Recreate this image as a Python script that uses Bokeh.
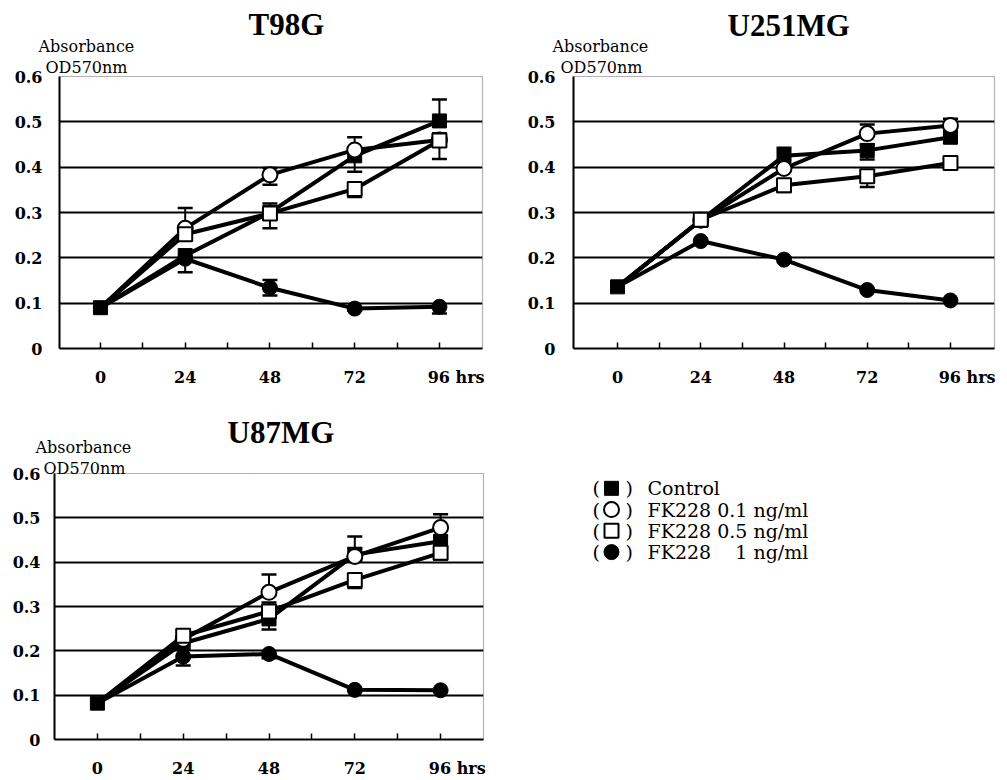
from bokeh.plotting import figure
from bokeh.layouts import row, column
from bokeh.models import (Range1d, FixedTicker, Title, Whisker, TeeHead,
                          ColumnDataSource, PrintfTickFormatter)
from bokeh.embed import file_html
from bokeh.resources import INLINE
from bokeh.core.properties import value

# ---------------- data ----------------
hours = [0, 24, 48, 72, 96]
x_tick_labels = ["0", "24", "48", "72", "96"]
x_unit = "hrs"
y_ticks = [0, 0.1, 0.2, 0.3, 0.4, 0.5, 0.6]
y_tick_labels = ["0", "0.1", "0.2", "0.3", "0.4", "0.5", "0.6"]
y_title = ["Absorbance", "OD570nm"]
series_names = ["Control", "FK228 0.1 ng/ml", "FK228 0.5 ng/ml",
                "FK228\u00a0\u00a0\u00a0\u00a01 ng/ml"]
cell_lines = ["T98G", "U251MG", "U87MG"]

# T98G  (mean, upper error, lower error)
t98g_control = [0.090, 0.205, 0.300, 0.425, 0.502]
t98g_control_up = [0, 0, 0, 0, 0.047]
t98g_control_dn = [0, 0.037, 0, 0.035, 0]
t98g_fk01 = [0.090, 0.265, 0.383, 0.438, 0.460]
t98g_fk01_up = [0, 0.045, 0.015, 0.028, 0]
t98g_fk01_dn = [0, 0, 0.022, 0, 0]
t98g_fk05 = [0.090, 0.252, 0.298, 0.352, 0.459]
t98g_fk05_up = [0, 0, 0.022, 0, 0.016]
t98g_fk05_dn = [0, 0, 0.033, 0.018, 0.041]
t98g_fk1 = [0.090, 0.198, 0.134, 0.088, 0.092]
t98g_fk1_up = [0, 0, 0.017, 0, 0]
t98g_fk1_dn = [0, 0, 0.017, 0.005, 0.015]

# U251MG
u251_control = [0.136, 0.283, 0.425, 0.437, 0.466]
u251_control_up = [0, 0, 0.018, 0.013, 0.012]
u251_control_dn = [0, 0, 0, 0.020, 0.012]
u251_fk01 = [0.136, 0.283, 0.397, 0.474, 0.492]
u251_fk01_up = [0, 0, 0, 0.020, 0.015]
u251_fk01_dn = [0, 0, 0, 0, 0]
u251_fk05 = [0.136, 0.284, 0.360, 0.380, 0.409]
u251_fk05_up = [0, 0, 0.012, 0, 0.010]
u251_fk05_dn = [0, 0, 0.015, 0.024, 0.010]
u251_fk1 = [0.136, 0.237, 0.196, 0.129, 0.106]
u251_fk1_up = [0, 0, 0.005, 0, 0]
u251_fk1_dn = [0, 0, 0, 0, 0.005]

# U87MG
u87_control = [0.082, 0.217, 0.272, 0.417, 0.447]
u87_control_up = [0, 0, 0, 0.015, 0.012]
u87_control_dn = [0, 0, 0.024, 0, 0.012]
u87_fk01 = [0.082, 0.226, 0.332, 0.413, 0.478]
u87_fk01_up = [0, 0, 0.040, 0.045, 0.030]
u87_fk01_dn = [0, 0, 0, 0, 0]
u87_fk05 = [0.082, 0.234, 0.289, 0.360, 0.421]
u87_fk05_up = [0, 0, 0.020, 0, 0]
u87_fk05_dn = [0, 0, 0, 0.018, 0.015]
u87_fk1 = [0.082, 0.187, 0.193, 0.112, 0.111]
u87_fk1_up = [0, 0, 0, 0, 0]
u87_fk1_dn = [0, 0.020, 0.010, 0, 0]

# ---------------- styling ----------------
STYLES = [
    dict(marker="square", size=14, fill_color="black", line_color="black", line_width=1),
    dict(marker="circle", size=15, fill_color="white", line_color="black", line_width=2),
    dict(marker="square", size=14, fill_color="white", line_color="black", line_width=2),
    dict(marker="circle", size=15, fill_color="black", line_color="black", line_width=1),
]
TICK_FONT = "DejaVu Serif"
NB = "\u00a0"


def make_panel(title, series, width, height, xr, borders, title_off,
               abs_off, od_off, ylab_standoff, xlab_standoff):
    bl, br, bt, bb = borders
    p = figure(width=width, height=height, x_range=Range1d(*xr),
               y_range=Range1d(0, 0.6), output_backend="svg",
               toolbar_location=None, title_location=None,
               min_border_left=bl, min_border_right=br,
               min_border_top=bt, min_border_bottom=bb)
    p.background_fill_color = "white"
    p.border_fill_color = "white"
    p.outline_line_color = "#666666"
    p.outline_line_dash = "1 1"
    p.outline_line_width = 1.2

    p.xgrid.visible = False
    p.ygrid.ticker = FixedTicker(ticks=y_ticks[1:-1])
    p.ygrid.grid_line_color = "black"
    p.ygrid.grid_line_width = 1.8

    # y axis
    p.yaxis.ticker = FixedTicker(ticks=y_ticks)
    p.yaxis.formatter = PrintfTickFormatter(format="%.1f")
    p.yaxis.major_label_overrides = dict(zip(y_ticks, y_tick_labels))
    p.yaxis.axis_line_width = 2
    p.yaxis.major_tick_in = 0
    p.yaxis.major_tick_out = 0
    p.yaxis.minor_tick_in = 0
    p.yaxis.minor_tick_out = 0
    p.yaxis.major_tick_line_color = None
    p.yaxis.minor_tick_line_color = None
    p.yaxis.major_label_standoff = ylab_standoff

    # x axis (last label carries the unit)
    minor = [(a + b) / 2 for a, b in zip(hours, hours[1:])]
    xlabels = list(x_tick_labels)
    xlabels[-1] = NB * 6 + xlabels[-1] + NB + x_unit
    p.xaxis.ticker = FixedTicker(ticks=hours, minor_ticks=minor)
    p.xaxis.major_label_overrides = dict(zip(hours, xlabels))
    p.xaxis.axis_line_width = 2
    p.xaxis.major_tick_in = 6
    p.xaxis.major_tick_out = 0
    p.xaxis.minor_tick_in = 6
    p.xaxis.minor_tick_out = 0
    p.xaxis.major_tick_line_width = 1.5
    p.xaxis.minor_tick_line_width = 1.5
    p.xaxis.major_label_standoff = xlab_standoff

    for ax in (p.xaxis, p.yaxis):
        ax.axis_line_color = "black"
        ax.major_label_text_font = TICK_FONT
        ax.major_label_text_font_size = "16px"
        ax.major_label_text_font_style = "bold"
        ax.major_label_text_color = "black"

    # error bars
    for vals, up, dn in series:
        su = ColumnDataSource(dict(
            base=[h for h, u in zip(hours, up) if u > 0],
            lower=[v for v, u in zip(vals, up) if u > 0],
            upper=[v + u for v, u in zip(vals, up) if u > 0]))
        sd = ColumnDataSource(dict(
            base=[h for h, d in zip(hours, dn) if d > 0],
            lower=[v - d for v, d in zip(vals, dn) if d > 0],
            upper=[v for v, d in zip(vals, dn) if d > 0]))
        p.add_layout(Whisker(base="base", lower="lower", upper="upper", source=su,
                             line_width=2, line_color="black", lower_head=None,
                             upper_head=TeeHead(size=15, line_width=2.5, line_color="black")))
        p.add_layout(Whisker(base="base", lower="lower", upper="upper", source=sd,
                             line_width=2, line_color="black", upper_head=None,
                             lower_head=TeeHead(size=15, line_width=2.5, line_color="black")))

    # lines
    for vals, up, dn in series:
        p.line(hours, vals, line_width=4, line_color="black", line_join="round")

    # markers (treatments share the control baseline at time 0)
    for i, (vals, up, dn) in enumerate(series):
        xs = hours if i == 0 else hours[1:]
        ys = vals if i == 0 else vals[1:]
        p.scatter(xs, ys, **STYLES[i])

    # header texts, stacked outward from the frame
    p.add_layout(Title(text=y_title[1], align="left", offset=od_off[0], standoff=od_off[1],
                       text_font="DejaVu Serif", text_font_size="16px",
                       text_font_style="normal", text_color="black"), "above")
    p.add_layout(Title(text=y_title[0], align="left", offset=abs_off[0], standoff=abs_off[1],
                       text_font="DejaVu Serif", text_font_size="16px",
                       text_font_style="normal", text_color="black"), "above")
    p.add_layout(Title(text=title, align="left", offset=title_off[0], standoff=title_off[1],
                       text_font="Liberation Serif", text_font_size="31px",
                       text_font_style="bold", text_color="black"), "above")
    return p


p1 = make_panel(cell_lines[0],
                [(t98g_control, t98g_control_up, t98g_control_dn),
                 (t98g_fk01, t98g_fk01_up, t98g_fk01_dn),
                 (t98g_fk05, t98g_fk05_up, t98g_fk05_dn),
                 (t98g_fk1, t98g_fk1_up, t98g_fk1_dn)],
                511, 400, (-11.6, 108.2), (59, 29, 76, 52),
                (189, -15), (-21, 1), (-14, -1), 17, 19)
p2 = make_panel(cell_lines[1],
                [(u251_control, u251_control_up, u251_control_dn),
                 (u251_fk01, u251_fk01_up, u251_fk01_dn),
                 (u251_fk05, u251_fk05_up, u251_fk05_dn),
                 (u251_fk1, u251_fk1_up, u251_fk1_dn)],
                489, 400, (-12.7, 108.7), (62, 6, 76, 52),
                (154, -17), (-21, 1), (-13, -1), 18, 19)
p3 = make_panel(cell_lines[2],
                [(u87_control, u87_control_up, u87_control_dn),
                 (u87_fk01, u87_fk01_up, u87_fk01_dn),
                 (u87_fk05, u87_fk05_up, u87_fk05_dn),
                 (u87_fk1, u87_fk1_up, u87_fk1_dn)],
                511, 380, (-12.0, 108.0), (54, 28, 73, 38),
                (173, -37), (-19, 9), (-11, -9), 14, 19)

# ---------------- legend panel ----------------
# frame spans the same rows as p3's frame; rows 21.5 px apart starting 15 px below its top
row_px = 21.5
frame_h = 380 - 73 - 38
pleg = figure(width=489, height=380, x_range=Range1d(0, 489),
              y_range=Range1d((frame_h - 15) / row_px, -15 / row_px),
              output_backend="svg", toolbar_location=None, title_location=None,
              min_border_left=0, min_border_right=0, min_border_top=73,
              min_border_bottom=38)
pleg.axis.visible = False
pleg.grid.visible = False
pleg.outline_line_color = None
pleg.background_fill_color = "white"
pleg.border_fill_color = "white"
rows_idx = list(range(len(series_names)))
txt = dict(text_baseline="middle", text_align="left", text_font=value("DejaVu Serif"),
           text_font_size="19px", text_color="black")
pleg.text(x=81, y=rows_idx, text=["("] * len(rows_idx), **txt)
pleg.text(x=114, y=rows_idx, text=[")"] * len(rows_idx), **txt)
pleg.text(x=136, y=rows_idx, text=series_names, **txt)
for i in rows_idx:
    pleg.scatter([100], [i], **STYLES[i])

layout = column(row(p1, p2), row(p3, pleg))
open("out.html", "w").write(file_html(layout, INLINE))
